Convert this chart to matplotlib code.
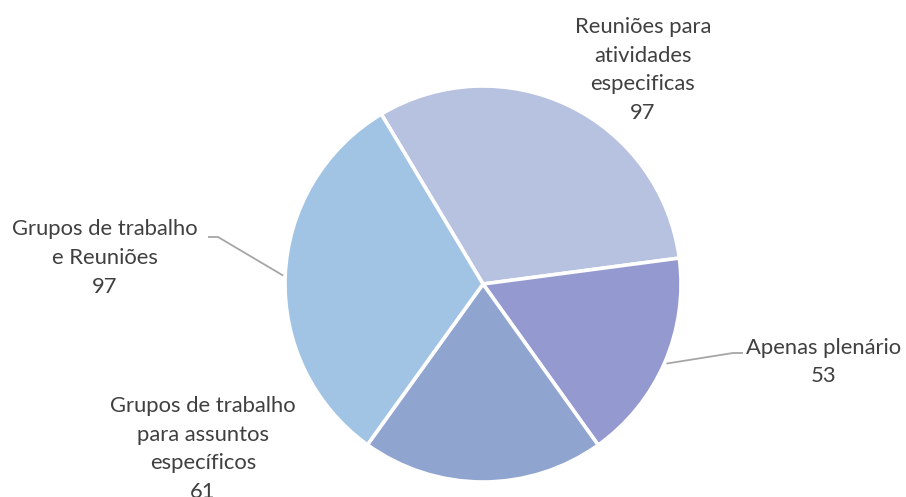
import numpy as np
import matplotlib
matplotlib.use("Agg")
import matplotlib.pyplot as plt

labels = ["Reuniões para\natividades\nespecificas", "Apenas plenário",
          "Grupos de trabalho\npara assuntos\nespecíficos", "Grupos de trabalho\ne Reuniões"]
values = [97, 53, 61, 97]
colors = ["#B7C1E0", "#9499D0", "#90A4D0", "#A1C4E4"]

W, H = 906, 497
CX, CY, R = 483, 284, 198

fig = plt.figure(figsize=(W / 100, H / 100), dpi=100)
ax = fig.add_axes([0, 0, 1, 1])
ax.axis("off")
wedges, _ = ax.pie(values, colors=colors, startangle=120.9, counterclock=False,
                   radius=1, center=(0, 0),
                   wedgeprops=dict(edgecolor="white", linewidth=2.6))
ax.set_xlim(-CX / R, (W - CX) / R)
ax.set_ylim(-(H - CY) / R, CY / R)
ax.set_aspect("equal")

def px(x, y):
    return ((x - CX) / R, (CY - y) / R)

font = dict(family=["Lato", "DejaVu Sans"], color="#404040", fontsize=15.8,
            ha="center", va="center", linespacing=1.55)

# label positions (pixel centres of text blocks)
pos = [(643, 70), (824, 362), (203, 449), (105, 258)]
for lab, v, (x, y) in zip(labels, values, pos):
    ax.text(*px(x, y), f"{lab}\n{v}", **font)

# leader lines from wedge mid-angle
def leader(w, elbow, end):
    mid = np.deg2rad((w.theta1 + w.theta2) / 2)
    p0 = (1.01 * np.cos(mid), 1.01 * np.sin(mid))
    xs = [p0[0], px(*elbow)[0], px(*end)[0]]
    ys = [p0[1], px(*elbow)[1], px(*end)[1]]
    ax.plot(xs, ys, color="#A6A6A6", lw=1.3, solid_capstyle="butt")

leader(wedges[3], (218, 237), (208, 237))
leader(wedges[1], (733, 353), (743, 353))

fig.savefig("out.png", dpi=100)
